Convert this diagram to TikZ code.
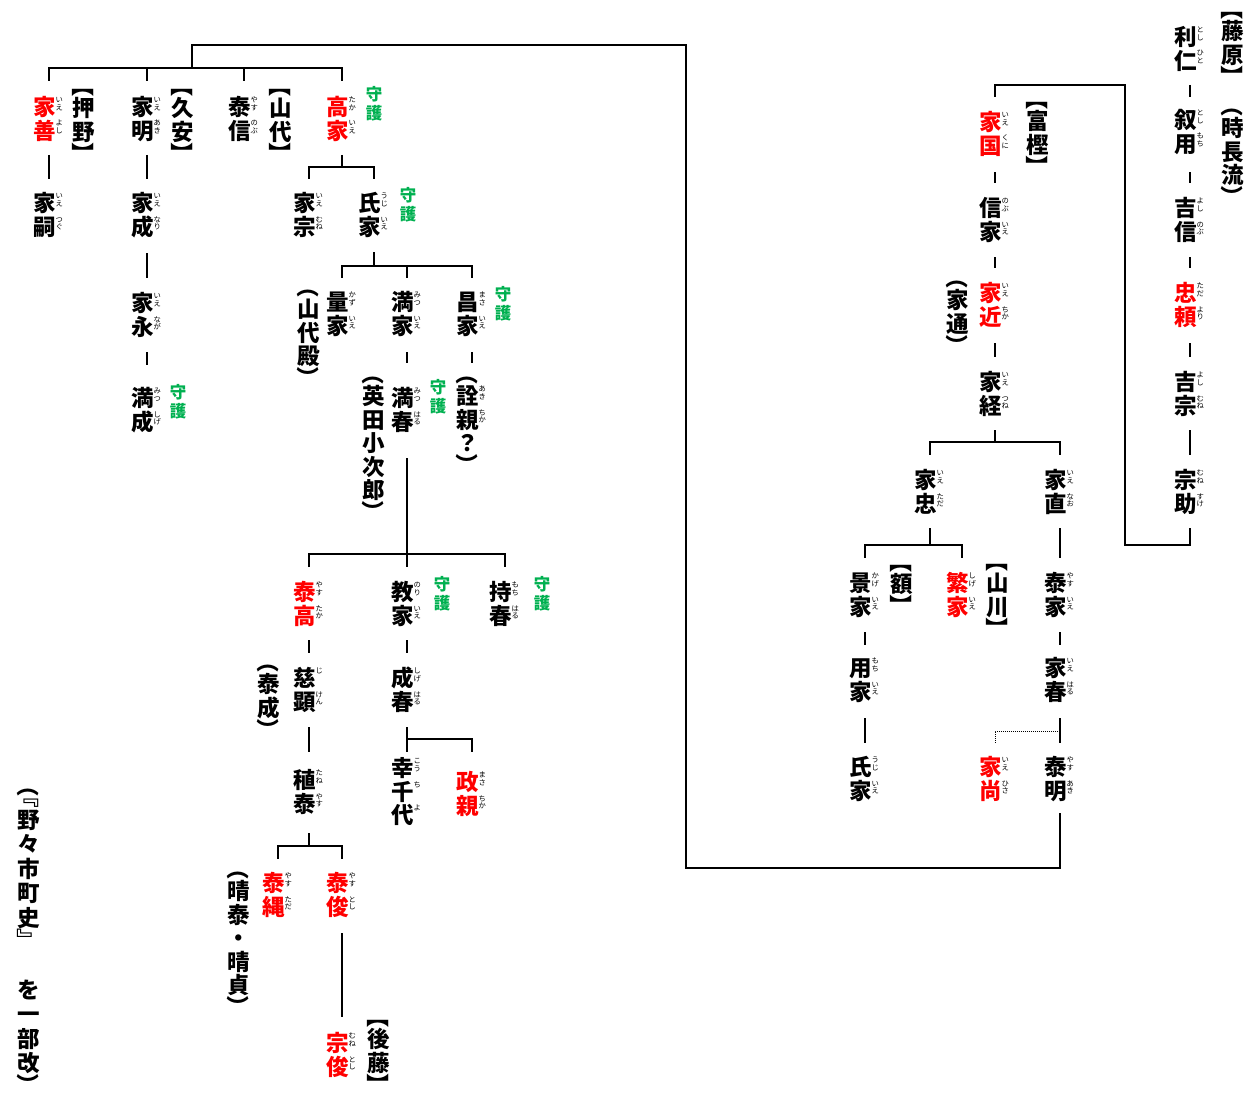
\documentclass[tikz,border=0pt]{standalone}
\usepackage{fontspec}
\usepackage{graphicx}
\newfontfamily\jp{Noto Sans CJK JP}
\definecolor{kred}{RGB}{255,0,0}
\definecolor{kgrn}{RGB}{0,176,80}
\newlength\kh \newlength\kd
\setlength\kh{20.3pt}\setlength\kd{3.2pt}
\makeatletter
\newcommand\rstack[1]{\vtop{\jp\mdseries\fontsize{7.3}{7.8}\selectfont\baselineskip=7.8pt\lineskiplimit=-20pt\@tfor\rb@c:=#1\do{\hbox{\color{black}\rb@c}}}}
\makeatother
\newcommand\K[2]{\hbox to 32pt{\vrule height\kh depth\kd width 0pt\hbox to 22.5pt{\hss#1\hss}\hbox to 9.5pt{\raisebox{13.2pt}[0pt][0pt]{\rstack{#2}}\hss}}}
\newcommand\emb[1]{\hbox to 22.5pt{\vrule height 19.8pt depth 2.7pt width 0pt\hss#1\hss}}
\newcommand\BO[1]{\hbox to 32pt{\vrule height 8.5pt depth 2pt width 0pt\hbox to 22.5pt{\hss\smash{\rotatebox[origin=c]{-90}{\emb{#1}}}\hss}\hss}}
\newcommand\BC[1]{\hbox to 32pt{\vrule height 8.5pt depth 2pt width 0pt\hbox to 22.5pt{\hss\raisebox{-10pt}{\smash{\rotatebox[origin=c]{-90}{\emb{#1}}}}\hss}\hss}}
\newcommand\VC[1]{\vbox{\offinterlineskip\jp\bfseries\fontsize{22.5}{23.5}\selectfont #1}}
\newcommand\GS{\vbox{\offinterlineskip\jp\bfseries\fontsize{16.5}{18.5}\selectfont\hbox{\vrule height 15pt depth 3.5pt width 0pt 守}\hbox{\vrule height 15pt depth 3.5pt width 0pt 護}}}
\tikzset{
  nm/.style={anchor=north,inner sep=0pt,outer sep=0pt},
  rd/.style={nm,text=kred},
  gs/.style={nm,text=kgrn},
  ln/.style={line width=1.2pt,line cap=butt},
  dl/.style={line width=1pt,dash pattern=on 1pt off 1pt}
}
\begin{document}
\begin{tikzpicture}[x=1pt,y=-1pt]
\useasboundingbox (0,0) rectangle (1250,1097);
% ---------- right: Fujiwara / Togashi ----------
\node[nm] (fuji) at (1237,9) {\VC{\BO{【}\K{藤}{}\K{原}{}\BC{】}}};
\node[nm] (jicho) at (1237,106) {\VC{\BO{（}\K{時}{}\K{長}{}\K{流}{}\BC{）}}};
\node[nm] (toshihito) at (1190,25.4) {\VC{\K{利}{とし}\K{仁}{ひと}}};
\node[nm] (toshimochi) at (1190,108.4) {\VC{\K{叙}{とし}\K{用}{もち}}};
\node[nm] (yoshinobu) at (1190,196.4) {\VC{\K{吉}{よし}\K{信}{のぶ}}};
\node[rd] (tadayori) at (1190,281.4) {\VC{\K{忠}{ただ}\K{頼}{より}}};
\node[nm] (yoshimune) at (1190,370.4) {\VC{\K{吉}{よし}\K{宗}{むね}}};
\node[nm] (munesuke) at (1190,468.4) {\VC{\K{宗}{むね}\K{助}{すけ}}};
\node[nm] (togashi) at (1042,99) {\VC{\BO{【}\K{富}{}\K{樫}{}\BC{】}}};
\node[rd] (iekuni) at (995,110.4) {\VC{\K{家}{いえ}\K{国}{くに}}};
\node[nm] (nobuie) at (995,196.4) {\VC{\K{信}{のぶ}\K{家}{いえ}}};
\node[rd] (iechika) at (995,281.4) {\VC{\K{家}{いえ}\K{近}{ちか}}};
\node[nm] (iemichi) at (962,278) {\VC{\BO{（}\K{家}{}\K{通}{}\BC{）}}};
\node[nm] (ietsune) at (995,370.4) {\VC{\K{家}{いえ}\K{経}{つね}}};
\node[nm] (ietada) at (930,468.4) {\VC{\K{家}{いえ}\K{忠}{ただ}}};
\node[nm] (ienao) at (1060,468.4) {\VC{\K{家}{いえ}\K{直}{なお}}};
\node[nm] (kageie) at (865,571.4) {\VC{\K{景}{かげ}\K{家}{いえ}}};
\node[nm] (nuka) at (906,562) {\VC{\BO{【}\K{額}{}\BC{】}}};
\node[rd] (shigeie) at (962,571.4) {\VC{\K{繁}{しげ}\K{家}{いえ}}};
\node[nm] (yamakawa) at (1002,561) {\VC{\BO{【}\K{山}{}\K{川}{}\BC{】}}};
\node[nm] (yasuie) at (1060,571.4) {\VC{\K{泰}{やす}\K{家}{いえ}}};
\node[nm] (mochiie) at (865,656.4) {\VC{\K{用}{もち}\K{家}{いえ}}};
\node[nm] (ieharu) at (1060,656.4) {\VC{\K{家}{いえ}\K{春}{はる}}};
\node[nm] (ujiieR) at (865,755.4) {\VC{\K{氏}{うじ}\K{家}{いえ}}};
\node[rd] (iehisa) at (995,755.4) {\VC{\K{家}{いえ}\K{尚}{ひさ}}};
\node[nm] (yasuaki) at (1060,755.4) {\VC{\K{泰}{やす}\K{明}{あき}}};
% ---------- left ----------
\node[rd] (ieyoshi) at (49,95.4) {\VC{\K{家}{いえ}\K{善}{よし}}};
\node[nm] (oshino) at (88,86) {\VC{\BO{【}\K{押}{}\K{野}{}\BC{】}}};
\node[nm] (ieaki) at (147,95.4) {\VC{\K{家}{いえ}\K{明}{あき}}};
\node[nm] (hisayasu) at (187,86) {\VC{\BO{【}\K{久}{}\K{安}{}\BC{】}}};
\node[nm] (yasunobu) at (244,95.4) {\VC{\K{泰}{やす}\K{信}{のぶ}}};
\node[nm] (yamashiro) at (285,86) {\VC{\BO{【}\K{山}{}\K{代}{}\BC{】}}};
\node[rd] (takaie) at (342,95.4) {\VC{\K{高}{たか}\K{家}{いえ}}};
\node[gs] (g1) at (374,85.7) {\GS};
\node[nm] (ietsugu) at (49,191.4) {\VC{\K{家}{いえ}\K{嗣}{つぐ}}};
\node[nm] (ienari) at (147,191.4) {\VC{\K{家}{いえ}\K{成}{なり}}};
\node[nm] (ienaga) at (147,291.4) {\VC{\K{家}{いえ}\K{永}{なが}}};
\node[nm] (mitsushige) at (147,386.4) {\VC{\K{満}{みつ}\K{成}{しげ}}};
\node[gs] (g2) at (178,383.7) {\GS};
\node[nm] (iemune) at (309,191.4) {\VC{\K{家}{いえ}\K{宗}{むね}}};
\node[nm] (ujiie) at (374,191.4) {\VC{\K{氏}{うじ}\K{家}{いえ}}};
\node[gs] (g3) at (408,186.7) {\GS};
\node[nm] (kazuie) at (342,290.4) {\VC{\K{量}{かず}\K{家}{いえ}}};
\node[nm] (yamashirodono) at (313,287) {\VC{\BO{（}\K{山}{}\K{代}{}\K{殿}{}\BC{）}}};
\node[nm] (mitsuie) at (407,290.4) {\VC{\K{満}{みつ}\K{家}{いえ}}};
\node[nm] (masaie) at (472,290.4) {\VC{\K{昌}{まさ}\K{家}{いえ}}};
\node[gs] (g4) at (503,285.7) {\GS};
\node[nm] (mitsuharu) at (407,386.4) {\VC{\K{満}{みつ}\K{春}{はる}}};
\node[gs] (g5) at (438,378.7) {\GS};
\node[nm] (eida) at (378,374) {\VC{\BO{（}\K{英}{}\K{田}{}\K{小}{}\K{次}{}\K{郎}{}\BC{）}}};
\node[nm] (akichika) at (472,374) {\VC{\BO{（}\K{詮}{あき}\K{親}{ちか}\K{？}{}\BC{）}}};
\node[rd] (yasutaka) at (309,580.4) {\VC{\K{泰}{やす}\K{高}{たか}}};
\node[nm] (norie) at (407,580.4) {\VC{\K{教}{のり}\K{家}{いえ}}};
\node[gs] (g6) at (442,575.7) {\GS};
\node[nm] (mochiharu) at (505,580.4) {\VC{\K{持}{もち}\K{春}{はる}}};
\node[gs] (g7) at (542,575.7) {\GS};
\node[nm] (jiken) at (309,666.4) {\VC{\K{慈}{じ}\K{顕}{けん}}};
\node[nm] (yasunari) at (273,662) {\VC{\BO{（}\K{泰}{}\K{成}{}\BC{）}}};
\node[nm] (taneyasu) at (309,768.4) {\VC{\K{稙}{たね}\K{泰}{やす}}};
\node[nm] (shigeharu) at (407,666.4) {\VC{\K{成}{しげ}\K{春}{はる}}};
\node[nm] (kochiyo) at (407,756.4) {\VC{\K{幸}{こう}\K{千}{ち}\K{代}{よ}}};
\node[rd] (masachika) at (472,770.4) {\VC{\K{政}{まさ}\K{親}{ちか}}};
\node[rd] (yasutada) at (278,871.4) {\VC{\K{泰}{やす}\K{縄}{ただ}}};
\node[rd] (yasutoshi) at (342,871.4) {\VC{\K{泰}{やす}\K{俊}{とし}}};
\node[nm] (haruyasu) at (243,869) {\VC{\BO{（}\K{晴}{}\K{泰}{}\K{・}{}\K{晴}{}\K{貞}{}\BC{）}}};
\node[rd] (munetoshi) at (342,1031.4) {\VC{\K{宗}{むね}\K{俊}{とし}}};
\node[nm] (goto) at (383,1017) {\VC{\BO{【}\K{後}{}\K{藤}{}\BC{】}}};
\node[nm] (source) at (33,786) {\setlength\kh{21pt}\setlength\kd{3.5pt}\VC{\BO{（}\BO{『}\K{野}{}\K{々}{}\K{市}{}\K{町}{}\K{史}{}\BC{』}\vskip 29pt\K{を}{}\K{一}{}\K{部}{}\K{改}{}\BC{）}}};
% ---------- connectors: right ----------
\coordinate (cR) at (1125,85);
\coordinate (cA) at (686,45);
\coordinate (cB) at (192,68);
\draw[ln] (toshihito.south |- 0,85) -- (toshimochi.north |- 0,97);
\draw[ln] (toshimochi.south |- 0,172) -- (yoshinobu.north |- 0,183);
\draw[ln] (yoshinobu.south |- 0,257) -- (tadayori.north |- 0,268);
\draw[ln] (tadayori.south |- 0,343) -- (yoshimune.north |- 0,357);
\draw[ln] (yoshimune.south |- 0,430) -- (munesuke.north |- 0,455);
\draw[ln] (munesuke.south |- 0,528) -- (munesuke.south |- 0,545) -| (cR) -| (iekuni.north |- 0,97);
\draw[ln] (iekuni.south |- 0,172) -- (nobuie.north |- 0,183);
\draw[ln] (nobuie.south |- 0,257) -- (iechika.north |- 0,268);
\draw[ln] (iechika.south |- 0,343) -- (ietsune.north |- 0,357);
\draw[ln] (ietsune.south |- 0,430) -- (ietsune.south |- 0,442) -| (ietada.north |- 0,455);
\draw[ln] (ietsune.south |- 0,442) -| (ienao.north |- 0,455);
\draw[ln] (ietada.south |- 0,528) -- (ietada.south |- 0,545) -| (kageie.north |- 0,558);
\draw[ln] (ietada.south |- 0,545) -| (shigeie.north |- 0,558);
\draw[ln] (ienao.south |- 0,528) -- (yasuie.north |- 0,558);
\draw[ln] (kageie.south |- 0,632) -- (mochiie.north |- 0,645);
\draw[ln] (mochiie.south |- 0,718) -- (ujiieR.north |- 0,743);
\draw[ln] (yasuie.south |- 0,632) -- (ieharu.north |- 0,645);
\draw[ln] (ieharu.south |- 0,718) -- (yasuaki.north |- 0,743);
\draw[dl] (ieharu.south |- 0,731) -| (iehisa.north |- 0,743);
\draw[ln] (yasuaki.south |- 0,813) -- (yasuaki.south |- 0,868) -| (cA) -| (cB);
% ---------- connectors: left ----------
\draw[ln] (ieyoshi.north |- 0,81) -- (ieyoshi.north |- 0,68) -- (takaie.north |- 0,68) -- (takaie.north |- 0,81);
\draw[ln] (ieaki.north |- 0,68) -- (ieaki.north |- 0,81);
\draw[ln] (yasunobu.north |- 0,68) -- (yasunobu.north |- 0,81);
\draw[ln] (ieyoshi.south |- 0,155) -- (ietsugu.north |- 0,179);
\draw[ln] (ieaki.south |- 0,155) -- (ienari.north |- 0,179);
\draw[ln] (ienari.south |- 0,253) -- (ienaga.north |- 0,278);
\draw[ln] (ienaga.south |- 0,352) -- (mitsushige.north |- 0,365);
\draw[ln] (takaie.south |- 0,155) -- (takaie.south |- 0,167) -| (iemune.north |- 0,179);
\draw[ln] (takaie.south |- 0,167) -| (ujiie.north |- 0,179);
\draw[ln] (ujiie.south |- 0,252) -- (ujiie.south |- 0,266) -| (kazuie.north |- 0,278);
\draw[ln] (ujiie.south |- 0,266) -| (masaie.north |- 0,278);
\draw[ln] (mitsuie.north |- 0,266) -- (mitsuie.north |- 0,278);
\draw[ln] (mitsuie.south |- 0,352) -- (mitsuharu.north |- 0,363);
\draw[ln] (masaie.south |- 0,352) -- (akichika.north |- 0,363);
\draw[ln] (mitsuharu.south |- 0,458) -- (norie.north |- 0,567);
\draw[ln] (yasutaka.north |- 0,567) -- (yasutaka.north |- 0,554) -- (mochiharu.north |- 0,554) -- (mochiharu.north |- 0,567);
\draw[ln] (yasutaka.south |- 0,640) -- (jiken.north |- 0,653);
\draw[ln] (jiken.south |- 0,727) -- (taneyasu.north |- 0,752);
\draw[ln] (taneyasu.south |- 0,833) -- (taneyasu.south |- 0,846) -| (yasutada.north |- 0,859);
\draw[ln] (taneyasu.south |- 0,846) -| (yasutoshi.north |- 0,859);
\draw[ln] (yasutoshi.south |- 0,933) -- (munetoshi.north |- 0,1017);
\draw[ln] (norie.south |- 0,640) -- (shigeharu.north |- 0,653);
\draw[ln] (shigeharu.south |- 0,727) -- (kochiyo.north |- 0,752);
\draw[ln] (shigeharu.south |- 0,739) -| (masachika.north |- 0,752);
\end{tikzpicture}
\end{document}
